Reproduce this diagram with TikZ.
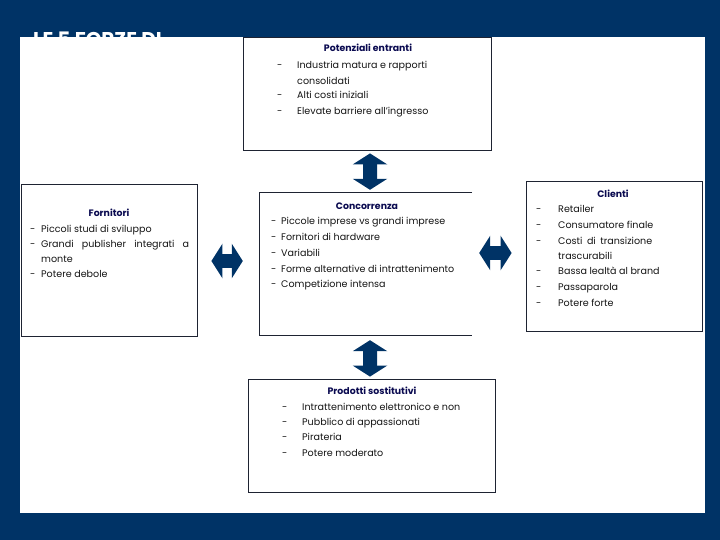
\documentclass[tikz,border=0pt]{standalone}
\usepackage{fontspec}
\setmainfont{Poppins}
\usetikzlibrary{arrows.meta,calc}
\definecolor{navy}{RGB}{0,51,102}
\definecolor{titlec}{RGB}{10,10,80}
\definecolor{linec}{RGB}{30,35,50}
\definecolor{textc}{RGB}{20,20,20}
\tikzset{
  boxline/.style={draw=linec,line width=0.8bp},
  ttl/.style={anchor=mid,inner sep=0pt,yshift=-1.2bp,font=\fontsize{9.4}{11}\selectfont\bfseries,text=titlec},
  itm/.style={anchor=mid west,inner sep=0pt,yshift=-1.2bp,font=\fontsize{9.6}{11}\selectfont,text=textc},
  barrow/.style={navy,line width=14bp,{Triangle[length=11bp,width=34bp]}-{Triangle[length=11bp,width=34bp]}},
}
\begin{document}
\begin{tikzpicture}[x=1bp,y=-1bp]
\useasboundingbox (0,0) rectangle (720,540);
\fill[navy] (0,0) rectangle (720,540);
\fill[white] (20,37) rectangle (705,513);
\node[anchor=north west,inner sep=0pt,text=white,font=\fontsize{20}{22}\selectfont\bfseries] (maintitle) at (33,31.5) {LE 5 FORZE DI};

% boxes
\node[boxline,minimum width=248bp,minimum height=113bp,inner sep=0pt] (pot) at (367,93.5) {};
\node[boxline,minimum width=176bp,minimum height=152bp,inner sep=0pt] (forn) at (109,260) {};
\node[minimum width=212bp,minimum height=142bp,inner sep=0pt] (conc) at (366,264) {};
\draw[boxline] (conc.north east) -- (conc.north west) -- (conc.south west) -- (conc.south east);
\node[boxline,minimum width=176bp,minimum height=150bp,inner sep=0pt] (cli) at (614,256) {};
\node[boxline,minimum width=247bp,minimum height=113bp,inner sep=0pt] (prod) at (371.5,435.5) {};

% Potenziali entranti
\node[ttl] (potT) at (368,48) {Potenziali entranti};
\node[itm] (potd1) at (277,65) {-};
\node[itm] (pot1) at (297,65) {Industria matura e rapporti};
\node[itm] (pot1b) at (297,81) {consolidati};
\node[itm] (potd2) at (277,95) {-};
\node[itm] (pot2) at (297,95) {Alti costi iniziali};
\node[itm] (potd3) at (277,111) {-};
\node[itm] (pot3) at (297,111) {Elevate barriere all’ingresso};

% Fornitori
\node[ttl] (fornT) at (109,213) {Fornitori};
\node[itm] (fornd1) at (30,229) {-};
\node[itm] (forn1) at (41,229) {Piccoli studi di sviluppo};
\node[itm] (fornd2) at (30,244) {-};
\node[itm] (forn2) at (41,244) {\hbox to 148bp{Grandi\hfil{} publisher\hfil{} integrati\hfil{} a}};
\node[itm] (forn2b) at (41,259) {monte};
\node[itm] (fornd3) at (30,274) {-};
\node[itm] (forn3) at (41,274) {Potere debole};

% Concorrenza
\node[ttl] (concT) at (367,206) {Concorrenza};
\node[itm] (concd1) at (271,221) {-};
\node[itm] (conc1) at (281,221) {Piccole imprese vs grandi imprese};
\node[itm] (concd2) at (271,237) {-};
\node[itm] (conc2) at (281,237) {Fornitori di hardware};
\node[itm] (concd3) at (271,253) {-};
\node[itm] (conc3) at (281,253) {Variabili};
\node[itm] (concd4) at (271,269) {-};
\node[itm] (conc4) at (281,269) {Forme alternative di intrattenimento};
\node[itm] (concd5) at (271,284) {-};
\node[itm] (conc5) at (281,284) {Competizione intensa};

% Clienti
\node[ttl] (cliT) at (613,194) {Clienti};
\node[itm] (clid1) at (536,209) {-};
\node[itm] (cli1) at (558,209) {Retailer};
\node[itm] (clid2) at (536,225) {-};
\node[itm] (cli2) at (558,225) {Consumatore finale};
\node[itm] (clid3) at (536,241) {-};
\node[itm] (cli3) at (558,241) {\hbox to 94bp{Costi\hfil{} di\hfil{} transizione}};
\node[itm] (cli3b) at (558,256) {trascurabili};
\node[itm] (clid4) at (536,271) {-};
\node[itm] (cli4) at (558,271) {Bassa lealtà al brand};
\node[itm] (clid5) at (536,287) {-};
\node[itm] (cli5) at (558,287) {Passaparola};
\node[itm] (clid6) at (536,303) {-};
\node[itm] (cli6) at (558,303) {Potere forte};

% Prodotti sostitutivi
\node[ttl] (prodT) at (372,391) {Prodotti sostitutivi};
\node[itm] (prodd1) at (282,407) {-};
\node[itm] (prod1) at (302,407) {Intrattenimento elettronico e non};
\node[itm] (prodd2) at (282,422) {-};
\node[itm] (prod2) at (302,422) {Pubblico di appassionati};
\node[itm] (prodd3) at (282,437) {-};
\node[itm] (prod3) at (302,437) {Pirateria};
\node[itm] (prodd4) at (282,453) {-};
\node[itm] (prod4) at (302,453) {Potere moderato};

% arrows
\draw[barrow,shorten <=3bp,shorten >=3bp] ([xshift=3bp]pot.south) -- ([xshift=4bp]conc.north);
\draw[barrow,shorten <=5bp,shorten >=2bp] ([xshift=4bp]conc.south) -- ([xshift=-1.5bp]prod.north);
\draw[barrow,shorten <=14bp,shorten >=17bp] ([yshift=-1bp]forn.east) -- ([yshift=-1bp]forn.east -| conc.west);
\draw[barrow,shorten <=7bp,shorten >=14bp] ([yshift=3bp]cli.west -| conc.east) -- ([yshift=3bp]cli.west);
\end{tikzpicture}
\end{document}
